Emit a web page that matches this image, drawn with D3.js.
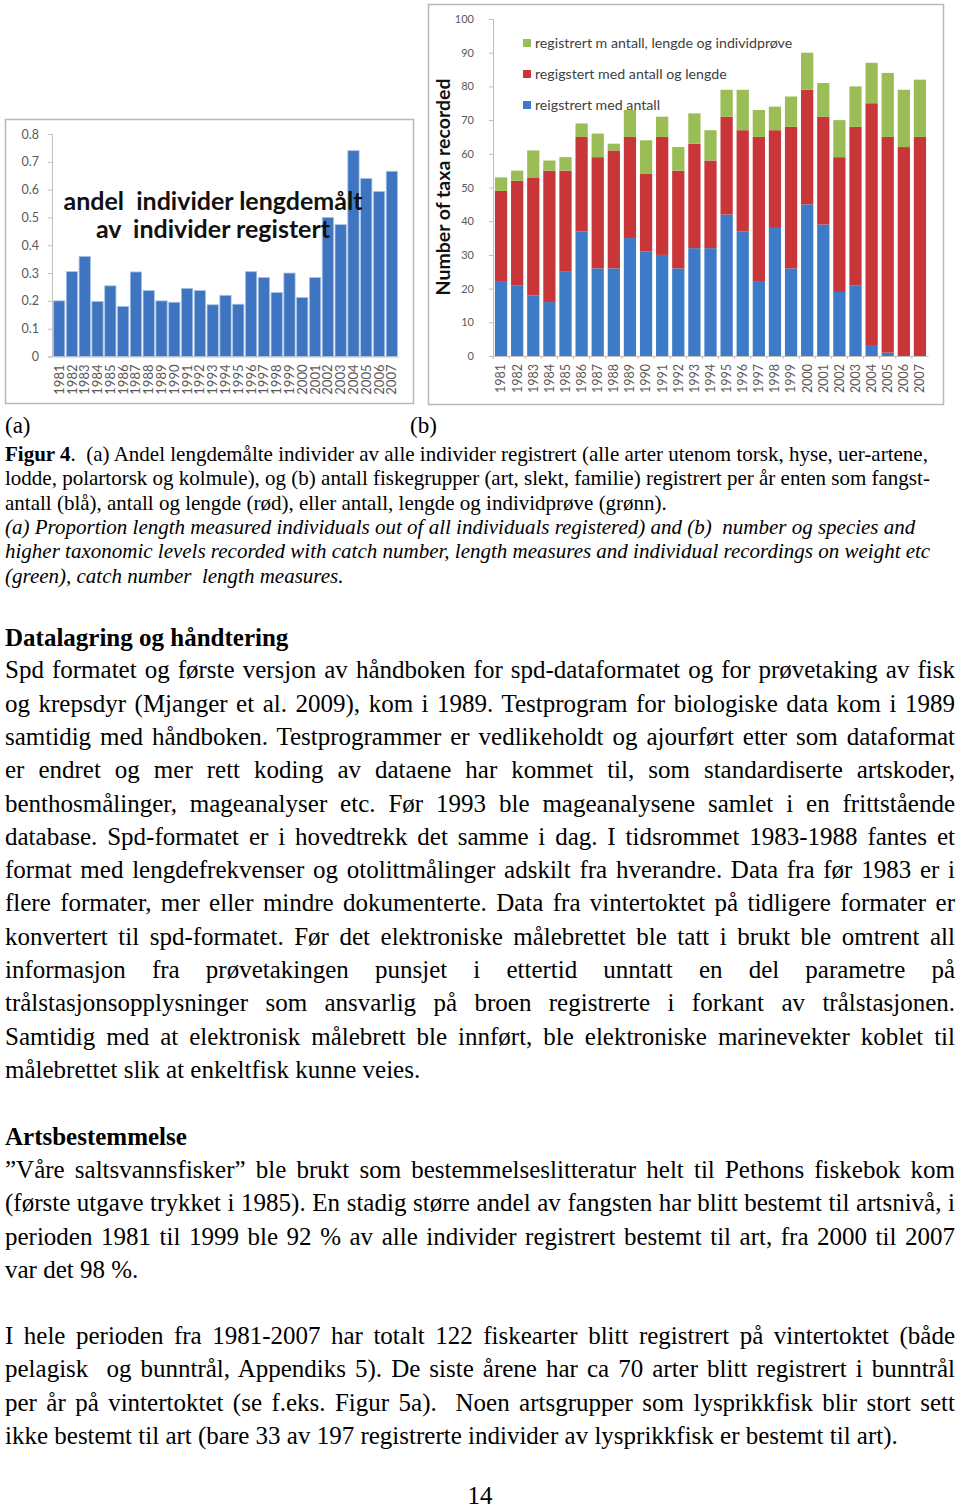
<!DOCTYPE html>
<html><head><meta charset="utf-8">
<script src="https://cdn.jsdelivr.net/npm/d3@7/dist/d3.min.js"></script>
<style>body{margin:0;background:#fff}svg{display:block}text{white-space:pre}</style>
</head><body>
<svg id="page" width="960" height="1508"></svg>
<script>
// ---------- DATA ----------
const years = ["1981","1982","1983","1984","1985","1986","1987","1988","1989","1990","1991","1992","1993","1994","1995","1996","1997","1998","1999","2000","2001","2002","2003","2004","2005","2006","2007"];
// (a) share of individuals length-measured
const shareMeasured = [0.20,0.305,0.36,0.198,0.254,0.18,0.304,0.237,0.20,0.195,0.245,0.237,0.186,0.22,0.188,0.305,0.284,0.23,0.30,0.212,0.284,0.50,0.474,0.74,0.64,0.593,0.666];
const shareTicks = [0,0.1,0.2,0.3,0.4,0.5,0.6,0.7,0.8];
// (b) number of taxa, stacked segments
const withCount = [22,21,18,16,25,37,26,26,35,31,30,26,32,32,42,37,22,38,26,45,39,19,21,3,1,0,0];
const withCountLength = [27,31,35,39,30,28,33,35,30,23,35,29,31,26,29,30,43,29,42,34,32,40,47,72,64,62,65];
const withCountLengthSample = [4,3,8,3,4,4,7,2,8,10,6,7,9,9,8,12,8,7,9,11,10,11,12,12,19,17,17];
const taxaTicks = [0,10,20,30,40,50,60,70,80,90,100];
const seriesKeys = ["withCount","withCountLength","withCountLengthSample"];
const seriesLabels = ["reigstrert med antall","regigstert med antall og lengde","registrert m antall, lengde og individprøve"];
const seriesColors = ["#3d7bc9","#c8363a","#9bbd55"];

// ---------- TEXT ----------
const captionLines = [
  {b:"Figur 4", r:".  (a) Andel lengdemålte individer av alle individer registrert (alle arter utenom torsk, hyse, uer-artene,"},
  {r:"lodde, polartorsk og kolmule), og (b) antall fiskegrupper (art, slekt, familie) registrert per år enten som fangst-"},
  {r:"antall (blå), antall og lengde (rød), eller antall, lengde og individprøve (grønn)."},
  {i:"(a) Proportion length measured individuals out of all individuals registered) and (b)  number og species and"},
  {i:"higher taxonomic levels recorded with catch number, length measures and individual recordings on weight etc"},
  {i:"(green), catch number  length measures."}
];
const para1 = [
  "Spd formatet og første versjon av håndboken for spd-dataformatet og for prøvetaking av fisk",
  "og krepsdyr (Mjanger et al. 2009), kom i 1989. Testprogram for biologiske data kom i 1989",
  "samtidig med håndboken. Testprogrammer er vedlikeholdt og ajourført etter som dataformat",
  "er endret og mer rett koding av dataene har kommet til, som standardiserte artskoder,",
  "benthosmålinger, mageanalyser etc. Før 1993 ble mageanalysene samlet i en frittstående",
  "database. Spd-formatet er i hovedtrekk det samme i dag. I tidsrommet 1983-1988 fantes et",
  "format med lengdefrekvenser og otolittmålinger adskilt fra hverandre. Data fra før 1983 er i",
  "flere formater, mer eller mindre dokumenterte. Data fra vintertoktet på tidligere formater er",
  "konvertert til spd-formatet. Før det elektroniske målebrettet ble tatt i brukt ble omtrent all",
  "informasjon fra prøvetakingen punsjet i ettertid unntatt en del parametre på",
  "trålstasjonsopplysninger som ansvarlig på broen registrerte i forkant av trålstasjonen.",
  "Samtidig med at elektronisk målebrett ble innført, ble elektroniske marinevekter koblet til",
  "målebrettet slik at enkeltfisk kunne veies."
];
const para2 = [
  "”Våre saltsvannsfisker” ble brukt som bestemmelseslitteratur helt til Pethons fiskebok kom",
  "(første utgave trykket i 1985). En stadig større andel av fangsten har blitt bestemt til artsnivå, i",
  "perioden 1981 til 1999 ble 92 % av alle individer registrert bestemt til art, fra 2000 til 2007",
  "var det 98 %."
];
const para3 = [
  "I hele perioden fra 1981-2007 har totalt 122 fiskearter blitt registrert på vintertoktet (både",
  "pelagisk  og bunntrål, Appendiks 5). De siste årene har ca 70 arter blitt registrert i bunntrål",
  "per år på vintertoktet (se f.eks. Figur 5a).  Noen artsgrupper som lysprikkfisk blir stort sett",
  "ikke bestemt til art (bare 33 av 197 registrerte individer av lysprikkfisk er bestemt til art)."
];

const svg = d3.select("#page");
const sans = "Lato, 'Open Sans', sans-serif";
const serif = "'Liberation Serif', 'Times New Roman', serif";
const axisGray = "#bfbfbf", labelGray = "#595959";

// ---------- CHART (a) ----------
{
  const g = svg.append("g");
  g.append("rect").attr("x",5.5).attr("y",119.5).attr("width",408).attr("height",284)
    .attr("fill","#fff").attr("stroke","#b8b8b8").attr("stroke-width",1.5);
  const x = d3.scaleBand().domain(years).range([53,398]).paddingInner(0.12).paddingOuter(0.04);
  const y = d3.scaleLinear().domain([0,0.8]).range([356.5,134]);
  const ya = g.append("g").attr("transform","translate(52,0)")
    .call(d3.axisLeft(y).tickValues(shareTicks).tickSize(4).tickPadding(9)
      .tickFormat(d=> d===0 ? "0" : d3.format(".1f")(d)));
  ya.select(".domain").attr("stroke",axisGray);
  ya.selectAll(".tick line").attr("stroke",axisGray);
  ya.selectAll(".tick text").attr("fill",labelGray).style("font-family",sans).style("font-size","12.5px");
  g.selectAll("rect.bar").data(years).join("rect").attr("class","bar")
    .attr("x",d=>x(d)).attr("width",x.bandwidth())
    .attr("y",(d,i)=>y(shareMeasured[i])).attr("height",(d,i)=>y(0)-y(shareMeasured[i]))
    .attr("fill","#3f75c0").attr("stroke","#a7c2e6").attr("stroke-width",0.8);
  const xa = g.append("g").attr("transform",`translate(0,${y(0)})`)
    .call(d3.axisBottom(x).tickSize(0).tickPadding(0));
  xa.select(".domain").attr("stroke",axisGray);
  xa.selectAll(".tick text").attr("transform","translate(0,8) rotate(-90)")
    .attr("text-anchor","end").attr("dy","0.35em").attr("y",0)
    .attr("fill",labelGray).style("font-family",sans).style("font-size","13px");
  g.append("text").attr("x",213).attr("y",210).attr("text-anchor","middle")
    .style("font-family",sans).style("font-weight","bold").style("font-size","25px").attr("fill","#111")
    .text("andel  individer lengdemålt");
  g.append("text").attr("x",213).attr("y",238).attr("text-anchor","middle")
    .style("font-family",sans).style("font-weight","bold").style("font-size","25px").attr("fill","#111")
    .text("av  individer registert");
}

// ---------- CHART (b) ----------
{
  const g = svg.append("g");
  g.append("rect").attr("x",428.5).attr("y",4.5).attr("width",515).attr("height",400)
    .attr("fill","#fff").attr("stroke","#b8b8b8").attr("stroke-width",1.5);
  const x = d3.scaleBand().domain(years).range([493,928]).paddingInner(0.24).paddingOuter(0.12);
  const y = d3.scaleLinear().domain([0,100]).range([356,19]);
  const rows = years.map((yr,i)=>({year:yr, withCount:withCount[i], withCountLength:withCountLength[i], withCountLengthSample:withCountLengthSample[i]}));
  const stack = d3.stack().keys(seriesKeys)(rows);
  const ya = g.append("g").attr("transform","translate(493,0)")
    .call(d3.axisLeft(y).tickValues(taxaTicks).tickSize(4).tickPadding(15));
  ya.select(".domain").attr("stroke",axisGray);
  ya.selectAll(".tick line").attr("stroke",axisGray);
  ya.selectAll(".tick text").attr("fill",labelGray).style("font-family",sans).style("font-size","11px");
  g.selectAll("g.layer").data(stack).join("g").attr("class","layer")
    .attr("fill",(d,i)=>seriesColors[i])
    .selectAll("rect").data(d=>d).join("rect")
    .attr("x",d=>x(d.data.year)).attr("width",x.bandwidth())
    .attr("y",d=>y(d[1])).attr("height",d=>y(d[0])-y(d[1]));
  const xa = g.append("g").attr("transform",`translate(0,${y(0)})`)
    .call(d3.axisBottom(x).tickSize(0));
  xa.select(".domain").attr("stroke",axisGray);
  xa.selectAll(".tick text").attr("transform","translate(0,8) rotate(-90)")
    .attr("text-anchor","end").attr("dy","0.35em").attr("y",0)
    .attr("fill",labelGray).style("font-family",sans).style("font-size","12.5px");
  // tick marks between bands
  g.append("g").selectAll("line").data(years).join("line")
    .attr("x1",d=>x(d)-x.step()*x.paddingInner()/2).attr("x2",d=>x(d)-x.step()*x.paddingInner()/2)
    .attr("y1",y(0)).attr("y2",y(0)+3).attr("stroke",axisGray);
  g.append("text").attr("transform","translate(450,187) rotate(-90)").attr("text-anchor","middle")
    .style("font-family",sans).style("font-weight","bold").style("font-size","19.5px").attr("fill","#111")
    .text("Number of taxa recorded");
  // legend (top to bottom: green, red, blue)
  const legendOrder = [2,1,0];
  const lg = g.append("g").selectAll("g").data(legendOrder).join("g")
    .attr("transform",(d,i)=>`translate(523,${43 + i*31})`);
  lg.append("rect").attr("x",0).attr("y",-4).attr("width",8).attr("height",8).attr("fill",d=>seriesColors[d]);
  lg.append("text").attr("x",12).attr("y",5).style("font-family",sans).style("font-size","14.2px")
    .attr("fill","#404040").text(d=>seriesLabels[d]);
}

// ---------- TEXT BLOCKS ----------
const capSize = 21, bodySize = 25;
svg.append("text").attr("x",5).attr("y",433).style("font-family",serif).style("font-size","23px").text("(a)");
svg.append("text").attr("x",410).attr("y",433).style("font-family",serif).style("font-size","23px").text("(b)");
const capBase = [461,485.3,509.6,533.9,558.2,582.5];
captionLines.forEach((ln,i)=>{
  const t = svg.append("text").attr("x",5).attr("y",capBase[i]).style("font-family",serif).style("font-size",capSize+"px");
  if (ln.b) t.append("tspan").style("font-weight","bold").text(ln.b);
  if (ln.r) t.append("tspan").text(ln.r);
  if (ln.i) t.append("tspan").style("font-style","italic").text(ln.i);
});
function bodyLine(str, yb, justify, bold){
  const t = svg.append("text").attr("x",5).attr("y",yb).style("font-family",serif)
    .style("font-size",bodySize+"px").style("font-weight",bold?"bold":"normal").text(str);
  if (justify){
    const n = (str.match(/ /g)||[]).length;
    const w = t.node().getComputedTextLength();
    if (n>0) t.attr("word-spacing",(950 - w)/n);
  }
}
bodyLine("Datalagring og håndtering",645.5,false,true);
para1.forEach((s,i)=>bodyLine(s,678.3+i*33.3,i<para1.length-1,false));
bodyLine("Artsbestemmelse",1145,false,true);
para2.forEach((s,i)=>bodyLine(s,1178+i*33.3,i<para2.length-1,false));
para3.forEach((s,i)=>bodyLine(s,1344+i*33.3,i<para3.length-1,false));
svg.append("text").attr("x",480).attr("y",1503.5).attr("text-anchor","middle")
  .style("font-family",serif).style("font-size",bodySize+"px").text("14");
</script>
</body></html>
